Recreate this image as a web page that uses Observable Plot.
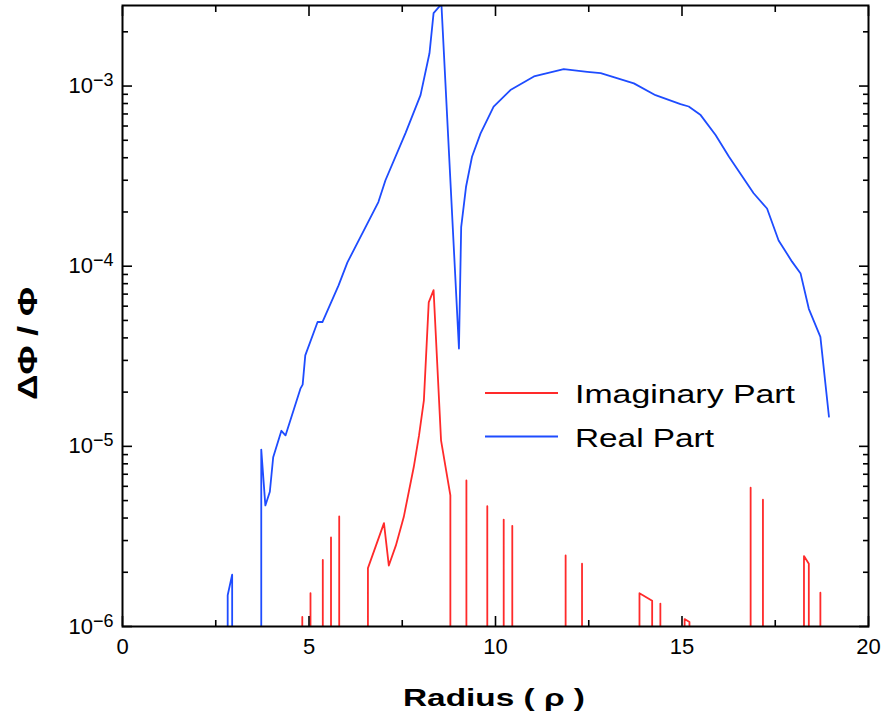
<!DOCTYPE html>
<html><head><meta charset="utf-8">
<script src="https://cdn.jsdelivr.net/npm/d3@7"></script>
<script src="https://cdn.jsdelivr.net/npm/@observablehq/plot@0.6"></script>
<style>
body{margin:0;background:#fff;}
#chart svg{font-family:"Liberation Sans",Arial,Helvetica,sans-serif;background:#fff;}
</style>
</head><body><div id="chart"></div>
<script>
// value used where the curve falls off the bottom of the log axis
const FLOOR = 1e-9;

const realX = [2.82, 2.82, 2.94, 2.94, 3.72, 3.72, 3.83, 3.95, 4.04, 4.26, 4.37, 4.77, 4.83, 4.90, 5.23, 5.36, 5.79, 6.03, 6.86, 7.05, 7.59, 7.99, 8.23, 8.34, 8.55, 9.02, 9.08, 9.21, 9.37, 9.60, 9.95, 10.40, 11.03, 11.83, 12.46, 12.82, 13.71, 14.29, 14.96, 15.18, 15.50, 15.90, 16.26, 16.92, 17.28, 17.59, 17.95, 18.18, 18.40, 18.71, 18.94];
const realY = [FLOOR, 1.49e-6, 1.94e-6, FLOOR, FLOOR, 9.6e-6, 4.7e-6, 5.6e-6, 8.7e-6, 1.22e-5, 1.15e-5, 2.09e-5, 2.2e-5, 3.2e-5, 4.9e-5, 4.9e-5, 7.8e-5, 1.05e-4, 2.27e-4, 3.0e-4, 5.5e-4, 8.9e-4, 1.52e-3, 2.54e-3, 2.85e-3, 3.49e-5, 1.65e-4, 2.76e-4, 4.05e-4, 5.46e-4, 7.68e-4, 9.5e-4, 1.13e-3, 1.24e-3, 1.2e-3, 1.18e-3, 1.035e-3, 8.9e-4, 7.94e-4, 7.7e-4, 6.9e-4, 5.35e-4, 4.05e-4, 2.54e-4, 2.09e-4, 1.39e-4, 1.06e-4, 9.1e-5, 5.8e-5, 4.05e-5, 1.46e-5];

const imagX = [4.82, 4.82, 4.82, 5.04, 5.04, 5.04, 5.37, 5.37, 5.37, 5.59, 5.59, 5.59, 5.81, 5.81, 5.81,
  6.58, 6.58, 7.01, 7.14, 7.33, 7.54, 7.81, 7.95, 8.08, 8.21, 8.34, 8.54, 8.79, 8.79,
  9.22, 9.22, 9.22, 9.78, 9.78, 9.78, 10.22, 10.22, 10.22, 10.45, 10.45, 10.45, 11.88, 11.88, 11.88, 12.32, 12.32, 12.32,
  13.86, 13.86, 14.20, 14.20, 14.42, 14.42, 14.42, 15.07, 15.07, 15.20, 15.20,
  16.84, 16.84, 16.84, 17.17, 17.17, 17.17, 18.27, 18.27, 18.40, 18.40, 18.71, 18.71, 18.71];
const imagY = [FLOOR, 1.13e-6, FLOOR, FLOOR, 1.53e-6, FLOOR, FLOOR, 2.34e-6, FLOOR, FLOOR, 3.12e-6, FLOOR, FLOOR, 4.08e-6, FLOOR,
  FLOOR, 2.11e-6, 3.75e-6, 2.18e-6, 2.82e-6, 4.05e-6, 7.7e-6, 1.15e-5, 1.8e-5, 6.3e-5, 7.36e-5, 1.08e-5, 5.35e-6, FLOOR,
  FLOOR, 6.47e-6, FLOOR, FLOOR, 4.65e-6, FLOOR, FLOOR, 3.92e-6, FLOOR, FLOOR, 3.62e-6, FLOOR, FLOOR, 2.48e-6, FLOOR, FLOOR, 2.23e-6, FLOOR,
  FLOOR, 1.53e-6, 1.39e-6, FLOOR, FLOOR, 1.34e-6, FLOOR, FLOOR, 1.10e-6, 1.06e-6, FLOOR,
  FLOOR, 5.89e-6, FLOOR, FLOOR, 5.06e-6, FLOOR, FLOOR, 2.46e-6, 2.23e-6, FLOOR, FLOOR, 1.54e-6, FLOOR];

const seriesNames = ["Imaginary Part", "Real Part"];
const seriesColors = ["#ff2a2a", "#1e4cff"];

const xTicksMajor = [0, 5, 10, 15, 20];
const xTicksMinor = [2.5, 7.5, 12.5, 17.5];
const yTicksMajor = [1e-6, 1e-5, 1e-4, 1e-3];
const yTickLabels = ["10−6", "10−5", "10−4", "10−3"];
const yTicksMinor = [2e-6,3e-6,4e-6,5e-6,6e-6,7e-6,8e-6,9e-6,2e-5,3e-5,4e-5,5e-5,6e-5,7e-5,8e-5,9e-5,2e-4,3e-4,4e-4,5e-4,6e-4,7e-4,8e-4,9e-4,2e-3];

const xLabel = "Radius ( ρ )";
const yLabel = "ΔΦ / Φ";

const imag = imagX.map((x, i) => ({x, y: imagY[i]}));
const real = realX.map((x, i) => ({x, y: realY[i]}));

const W = 881, H = 718;
const mL = 122, mR = 13, mT = 5, mB = 92;

const chart = Plot.plot({
  width: W, height: H,
  marginLeft: mL, marginRight: mR, marginTop: mT, marginBottom: mB,
  style: {fontFamily: '"Liberation Sans", Arial, sans-serif', color: "#000"},
  x: {domain: [0, 20]},
  y: {type: "log", domain: [1e-6, 2.8e-3]},
  marks: [
    Plot.line(real, {x: "x", y: "y", stroke: seriesColors[1], strokeWidth: 1.8, clip: true}),
    Plot.line(imag, {x: "x", y: "y", stroke: seriesColors[0], strokeWidth: 1.8, clip: true}),
    Plot.axisX({ticks: xTicksMajor, tickSize: -10, tickPadding: 22, tickFormat: d => String(d), label: null, anchor: "bottom"}),
    Plot.axisX({ticks: xTicksMinor, tickSize: -6, tickFormat: () => "", label: null, anchor: "bottom"}),
    Plot.axisX({ticks: xTicksMajor, tickSize: -10, tickFormat: () => "", label: null, anchor: "top"}),
    Plot.axisX({ticks: xTicksMinor, tickSize: -6, tickFormat: () => "", label: null, anchor: "top"}),
    Plot.axisY({ticks: yTicksMajor, tickSize: -10, tickPadding: 19, tickFormat: d => yTickLabels[yTicksMajor.indexOf(d)], label: null, anchor: "left"}),
    Plot.axisY({ticks: yTicksMinor, tickSize: -6, tickFormat: () => "", label: null, anchor: "left"}),
    Plot.axisY({ticks: yTicksMajor, tickSize: -10, tickFormat: () => "", label: null, anchor: "right"}),
    Plot.axisY({ticks: yTicksMinor, tickSize: -6, tickFormat: () => "", label: null, anchor: "right"}),
    Plot.frame({stroke: "#000", strokeWidth: 2})
  ]
});
document.getElementById("chart").appendChild(chart);

const svg = d3.select(chart);
svg.selectAll('g[aria-label="x-axis tick label"]').attr("font-size", 22).attr("fill", "#000");
svg.selectAll('g[aria-label="x-axis tick label"] text').attr("font-size", 22);
svg.selectAll('g[aria-label="y-axis tick label"]').attr("font-size", 22).attr("fill", "#000");
// superscript exponents on y tick labels
svg.selectAll('g[aria-label="y-axis tick label"] text').each(function(){
  const t = this.textContent;
  if (!t) return;
  const sel = d3.select(this);
  sel.attr("font-size", 22).text("");
  sel.append("tspan").text(t.slice(0, 2));
  sel.append("tspan").attr("dy", "-7").attr("font-size", 18).text(t.slice(2));
});
svg.selectAll('g[aria-label$="tick"]').attr("stroke", "#000").attr("stroke-width", 1.6);

// axis titles
svg.append("text").attr("x", 494).attr("y", 706)
  .attr("text-anchor", "middle").attr("font-weight", "bold").attr("font-size", 23)
  .attr("textLength", 182).attr("lengthAdjust", "spacingAndGlyphs")
  .attr("fill", "#000").text(xLabel);
svg.append("text").attr("transform", "translate(37,343.5) rotate(-90)")
  .attr("text-anchor", "middle").attr("font-weight", "bold").attr("font-size", 27)
  .attr("textLength", 113).attr("lengthAdjust", "spacingAndGlyphs")
  .attr("fill", "#000").text(yLabel);

// legend
const legendWidths = [220, 139];
const lg = svg.append("g").attr("transform", "translate(485,393)");
seriesNames.forEach((name, i) => {
  const g = lg.append("g").attr("transform", `translate(0,${i * 43.5})`);
  g.append("line").attr("x1", 0).attr("x2", 73).attr("y1", 0).attr("y2", 0)
    .attr("stroke", seriesColors[i]).attr("stroke-width", 1.8);
  g.append("text").attr("x", 90).attr("y", 10).attr("text-anchor", "start")
    .attr("font-size", 25).attr("fill", "#000")
    .attr("textLength", legendWidths[i]).attr("lengthAdjust", "spacingAndGlyphs")
    .text(name);
});
</script>
</body></html>
